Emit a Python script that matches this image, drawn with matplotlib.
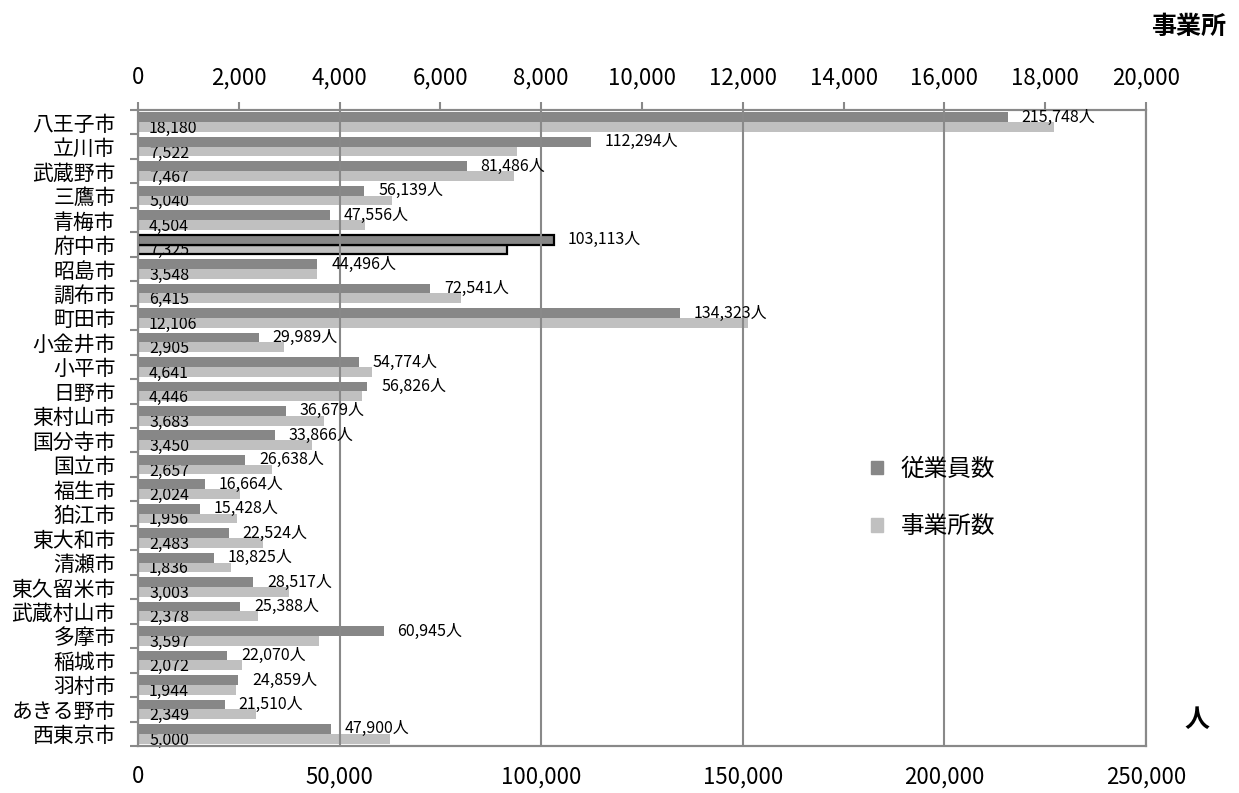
import numpy as np
import matplotlib.pyplot as plt
from matplotlib.patches import Patch

plt.rcParams['font.family'] = ['Noto Sans CJK JP', 'DejaVu Sans']

cities = ['八王子市', '立川市', '武蔵野市', '三鷹市', '青梅市', '府中市', '昭島市', '調布市',
          '町田市', '小金井市', '小平市', '日野市', '東村山市', '国分寺市', '国立市', '福生市',
          '狛江市', '東大和市', '清瀬市', '東久留米市', '武蔵村山市', '多摩市', '稲城市',
          '羽村市', 'あきる野市', '西東京市']
employees = [215748, 112294, 81486, 56139, 47556, 103113, 44496, 72541,
             134323, 29989, 54774, 56826, 36679, 33866, 26638, 16664,
             15428, 22524, 18825, 28517, 25388, 60945, 22070,
             24859, 21510, 47900]
offices = [18180, 7522, 7467, 5040, 4504, 7325, 3548, 6415,
           12106, 2905, 4641, 4446, 3683, 3450, 2657, 2024,
           1956, 2483, 1836, 3003, 2378, 3597, 2072,
           1944, 2349, 5000]
highlight = '府中市'

dark = '#878787'
light = '#c0c0c0'
grid_c = '#898989'

fig = plt.figure(figsize=(12.39, 7.93), dpi=100)
ax = fig.add_axes([138 / 1239, 1 - 746 / 793, 1008 / 1239, 636 / 793])
ax2 = ax.twiny()

n = len(cities)
y = np.arange(n)
ec = ['black' if c == highlight else 'none' for c in cities]
lw = [1.6 if c == highlight else 0 for c in cities]

ax.barh(y - 0.2, employees, height=0.4, color=dark, edgecolor=ec, linewidth=lw)
ax2.barh(y + 0.2, offices, height=0.4, color=light, edgecolor=ec, linewidth=lw)

for i, v in enumerate(employees):
    ax.annotate(f'{v:,}人', (v, i - 0.2), xytext=(10, 0), textcoords='offset points',
                va='center', ha='left', fontsize=11.5)
for i, v in enumerate(offices):
    ax2.annotate(f'{v:,}', (0, i + 0.2), xytext=(8, -1), textcoords='offset points',
                 va='center', ha='left', fontsize=11.5)

ax.set_ylim(n - 0.5, -0.5)
ax.set_xlim(0, 250000)
ax2.set_xlim(0, 20000)

ax.set_xticks(range(0, 250001, 50000))
ax.set_xticklabels([f'{t:,}' for t in range(0, 250001, 50000)])
ax.tick_params(axis='x', length=0, pad=14, labelsize=16)
ax2.set_xticks(range(0, 20001, 2000))
ax2.set_xticklabels([f'{t:,}' for t in range(0, 20001, 2000)])
ax2.tick_params(axis='x', length=6, width=1.5, color=grid_c, pad=9, labelsize=16)

ax.set_yticks(y)
ax.set_yticklabels(cities)
ax.set_yticks(np.arange(-0.5, n + 0.5, 1), minor=True)
ax.tick_params(axis='y', which='major', length=0, pad=16, labelsize=15)
ax.tick_params(axis='y', which='minor', length=6, width=1.5, color=grid_c)

ax.grid(axis='x', color=grid_c, linewidth=1.5)
for a in (ax, ax2):
    for s in a.spines.values():
        s.set_color(grid_c)
        s.set_linewidth(1.5)

ax.set_zorder(ax2.get_zorder() + 1)
ax.patch.set_visible(False)

handles = [Patch(color=dark), Patch(color=light)]
fig.legend(handles, ['従業員数', '事業所数'], loc='upper left',
           bbox_to_anchor=(871 / 1239, 1 - 458 / 793), frameon=False, fontsize=17,
           labelspacing=1.45, handlelength=0.5, handleheight=0.5, handletextpad=0.75,
           borderpad=0, borderaxespad=0)

fig.text(1189 / 1239, 1 - 27 / 793, '事業所', ha='center', va='center', fontsize=18, fontweight='bold')
fig.text(1197 / 1239, 1 - 720 / 793, '人', ha='center', va='center', fontsize=18, fontweight='bold')

fig.savefig('out.png', dpi=100)
